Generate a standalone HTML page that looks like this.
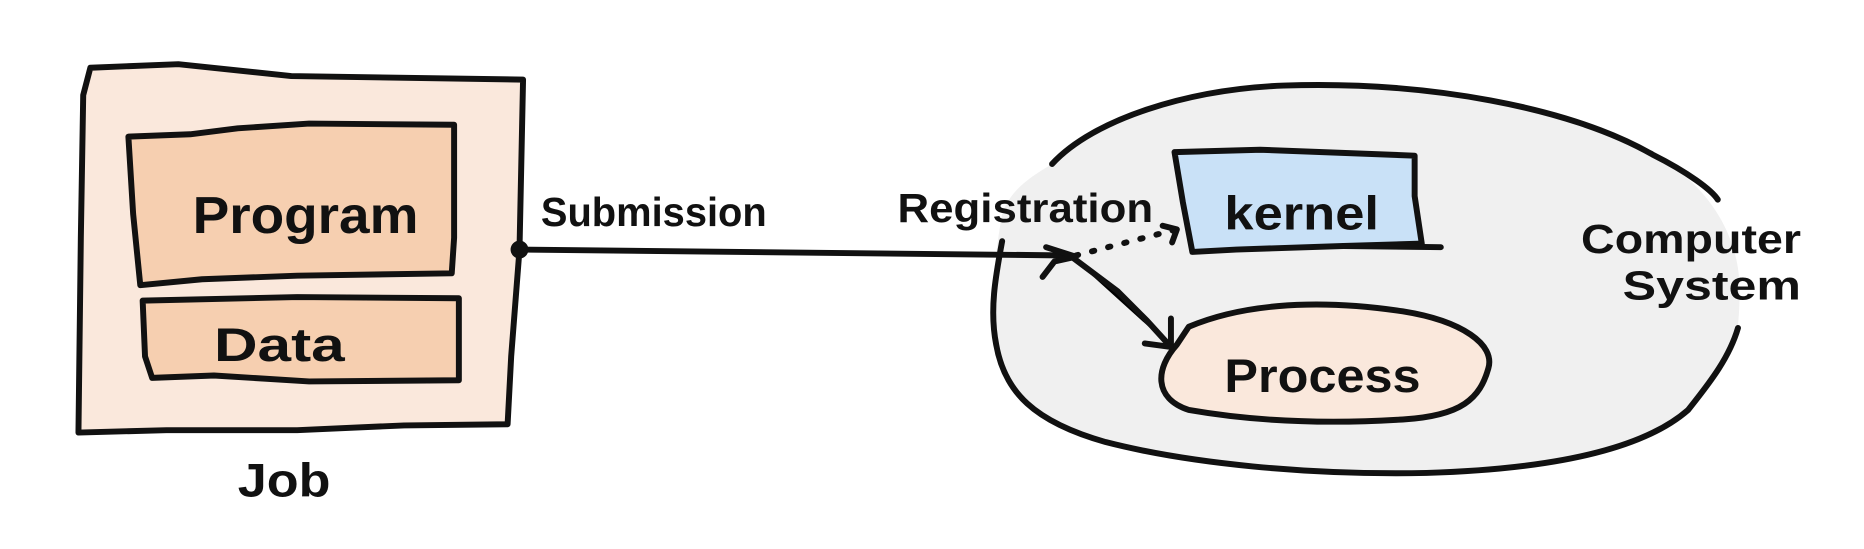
<!DOCTYPE html>
<html><head><meta charset="utf-8"><style>
html,body{margin:0;padding:0;background:#fff;}
svg{display:block;}
text{font-family:"Liberation Sans Narrow","Liberation Sans",sans-serif;font-weight:bold;fill:#111;}
</style></head><body>
<svg width="1864" height="549" viewBox="0 0 1568 462" preserveAspectRatio="none" xmlns="http://www.w3.org/2000/svg">
<g stroke="#111" stroke-width="5" stroke-linecap="round" stroke-linejoin="round">
<!-- Job -->
<path d="M76 57 L150 54 L245 64 L440 67 L437 210 L430 300 L427 357 L340 358 L250 362 L140 362 L66 364 L68 200 L70 80 Z" fill="#fae8dc"/>
<!-- Program -->
<path d="M108 115 L160 113 L200 108 L260 104 L382 105 L382 200 L380 230 L250 232 L170 235 L118 240 L112 180 Z" fill="#f6cfb0"/>
<!-- Data -->
<path d="M120 253 L250 250 L386 251 L386 320 L260 321 L180 316 L128 318 L122 300 Z" fill="#f6cfb0"/>
<!-- Computer system fill -->
<path d="M885 138 C920 100 1000 75 1080 72 C1200 68 1320 90 1390 130 C1430 150 1460 190 1463 235 C1464 260 1462 270 1462 276 C1455 300 1440 320 1420 345 C1380 380 1300 395 1200 398 C1100 400 1000 390 930 372 C870 355 845 330 838 290 C832 260 836 220 843 180 C850 160 865 150 885 138 Z" fill="#f0f0f0" stroke="none"/>
<path d="M885 138 C920 100 1000 75 1080 72 C1200 68 1320 90 1390 130 C1420 145 1440 160 1445 168" fill="none"/>
<path d="M1462 276 C1455 300 1440 320 1420 345 C1380 380 1300 395 1200 398 C1100 400 1000 390 930 372 C870 355 845 330 838 290 C832 260 838 230 843 203" fill="none"/>
<!-- Kernel -->
<path d="M988 128 L1060 126 L1190 131 L1190 165 L1196 205 L1130 207 L1040 210 L1003 212 L995 170 Z" fill="#c9e1f7"/>
<line x1="1130" y1="207" x2="1212" y2="208"/>
<!-- Process -->
<path d="M1000 275 C1040 258 1100 250 1180 262 C1230 270 1258 290 1252 310 C1245 335 1230 350 1180 353 C1100 358 1040 352 1000 345 C970 335 972 310 990 290 Z" fill="#fae8dc"/>
<!-- Connector -->
<line x1="437" y1="210" x2="900" y2="215"/>
<circle cx="437" cy="210" r="5" fill="#111"/>
<path d="M900 215 L940 245 L965 270 L985 292"/>
<path d="M963 289 L985 292 L985 268" fill="none"/>
<path d="M877 233 L887 220 L905 216 L880 208" fill="none"/>
<path d="M905 215 L990 193" stroke-dasharray="2 12" fill="none"/>
<path d="M978 190 L990 193 L986 204" fill="none"/>
</g>
<text x="162" y="196" font-size="44" textLength="190" lengthAdjust="spacingAndGlyphs">Program</text>
<text x="180" y="304" font-size="40" textLength="110" lengthAdjust="spacingAndGlyphs">Data</text>
<text x="200" y="418" font-size="40" textLength="78" lengthAdjust="spacingAndGlyphs">Job</text>
<text x="455" y="190" font-size="34" textLength="190" lengthAdjust="spacingAndGlyphs">Submission</text>
<text x="755" y="187" font-size="34" textLength="215" lengthAdjust="spacingAndGlyphs">Registration</text>
<text x="1030" y="193" font-size="40" textLength="130" lengthAdjust="spacingAndGlyphs">kernel</text>
<text x="1030" y="330" font-size="40" textLength="165" lengthAdjust="spacingAndGlyphs">Process</text>
<text x="1330" y="213" font-size="34" textLength="185" lengthAdjust="spacingAndGlyphs">Computer</text>
<text x="1365" y="252" font-size="34" textLength="150" lengthAdjust="spacingAndGlyphs">System</text>
</svg>
</body></html>
